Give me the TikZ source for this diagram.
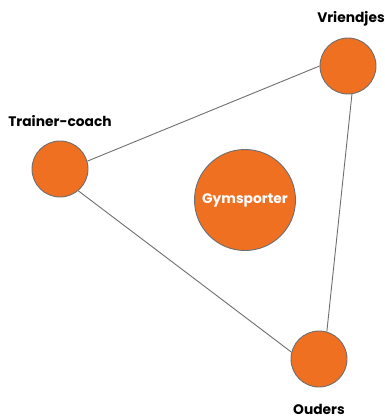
\documentclass[tikz,border=0pt]{standalone}
\usepackage{fontspec}
\setmainfont{Poppins}
\usetikzlibrary{positioning}
\definecolor{gymorange}{HTML}{F07022}
\definecolor{rimgray}{HTML}{6E6E6E}

\begin{document}
\begin{tikzpicture}[x=1pt, y=-1pt, node distance=8pt,
	main/.style = {circle, draw=rimgray, line width=0.9pt, fill=gymorange, minimum size=56pt, inner sep=0pt},
	lbl/.style = {font=\bfseries\fontsize{13.8}{16}\selectfont, inner sep=0pt}]
	\tikzset{edge/.style = {draw=rimgray, line width=0.9pt}}
	\useasboundingbox (0,0) rectangle (385,420);

		\node[main] (vriendjes) at (348,66) {};
		\node[main] (trainer) at (60,169) {};
		\node[main] (ouders) at (319,359) {};
		\node[main, minimum size=101pt, text=white] (gym) at (245,200) {\bfseries\fontsize{13.8}{16}\selectfont Gymsporter};

		\node[lbl] (vlabel) [above=11pt of vriendjes, xshift=3pt] {Vriendjes};
		\node[lbl] (tlabel) [above=14pt of trainer] {Trainer-coach};
		\node[lbl] (olabel) [below=17pt of ouders] {Ouders};

		\draw[edge] (trainer.16) -- (vriendjes.180);
		\draw[edge] (vriendjes.-82) -- (ouders.74);
		\draw[edge] (trainer.-50) -- (ouders.166);
	\end{tikzpicture}
\end{document}
